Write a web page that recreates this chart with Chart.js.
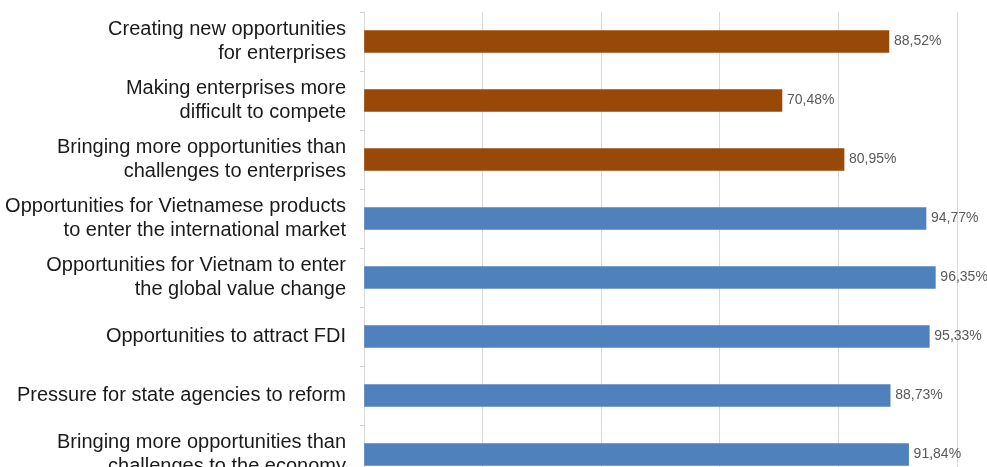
<!DOCTYPE html>
<html>
<head>
<meta charset="utf-8">
<script src="https://cdn.jsdelivr.net/npm/chart.js"></script>
<style>
  html, body { margin:0; padding:0; background:#fff; overflow:hidden; }
  #wrap { width:987px; height:484px; position:relative; }
</style>
</head>
<body>
<div id="wrap"><canvas id="chart"></canvas></div>
<script>
// categories (top to bottom)
var categories = [
  ['Creating new opportunities', 'for enterprises'],
  ['Making enterprises more', 'difficult to compete'],
  ['Bringing more opportunities than', 'challenges to enterprises'],
  ['Opportunities for Vietnamese products', 'to enter the international market'],
  ['Opportunities for Vietnam to enter', 'the global value change'],
  'Opportunities to attract FDI',
  'Pressure for state agencies to reform',
  ['Bringing more opportunities than', 'challenges to the economy']
];
var values = [88.52, 70.48, 80.95, 94.77, 96.35, 95.33, 88.73, 91.84];
var groups = ['enterprise', 'enterprise', 'enterprise', 'economy', 'economy', 'economy', 'economy', 'economy'];
var groupColors = { enterprise: '#984807', economy: '#4f81bd' };
var xTicks = [0, 20, 40, 60, 80, 100];

// 값 라벨 (88,52%)
var valueLabels = {
  id: 'valueLabels',
  afterDatasetsDraw: function(chart) {
    var ctx = chart.ctx;
    var meta = chart.getDatasetMeta(0);
    ctx.save();
    ctx.font = '14px "Liberation Sans", Arial, sans-serif';
    ctx.fillStyle = '#595959';
    ctx.textAlign = 'left';
    ctx.textBaseline = 'middle';
    meta.data.forEach(function(bar, i) {
      var txt = values[i].toFixed(2).replace('.', ',') + '%';
      ctx.fillText(txt, bar.x + 5, bar.y);
    });
    ctx.restore();
  }
};

new Chart(document.getElementById('chart').getContext('2d'), {
  type: 'bar',
  data: {
    labels: categories,
    datasets: [{
      data: values,
      backgroundColor: groups.map(function(g){ return groupColors[g]; }),
      borderWidth: 0,
      barThickness: 22
    }]
  },
  options: {
    indexAxis: 'y',
    responsive: true,
    maintainAspectRatio: false,
    animation: false,
    layout: { padding: { top: 12, right: 30, bottom: 0, left: 0 } },
    plugins: { legend: { display: false }, tooltip: { enabled: false } },
    scales: {
      x: {
        min: xTicks[0],
        max: xTicks[xTicks.length - 1],
        afterBuildTicks: function(scale) {
          scale.ticks = xTicks.map(function(v){ return { value: v }; });
        },
        afterFit: function(scale) { scale.height = 0; scale.paddingLeft = 0; scale.paddingRight = 0; },
        ticks: { display: false },
        grid: { color: '#d9d9d9', lineWidth: 1, drawTicks: false },
        border: { display: false }
      },
      y: {
        afterFit: function(scale) {
          scale.width = 364;
          scale.paddingTop = 0;
          scale.paddingBottom = 0;
        },
        ticks: {
          color: '#1a1a1a',
          padding: 14,
          font: { family: '"Liberation Sans", Arial, sans-serif', size: 20, lineHeight: 1.2 }
        },
        grid: { offset: true, drawOnChartArea: false, drawTicks: true, tickLength: 4, color: '#d0d0d0' },
        border: { display: true, color: '#d9d9d9' }
      }
    }
  },
  plugins: [valueLabels]
});
</script>
</body>
</html>
